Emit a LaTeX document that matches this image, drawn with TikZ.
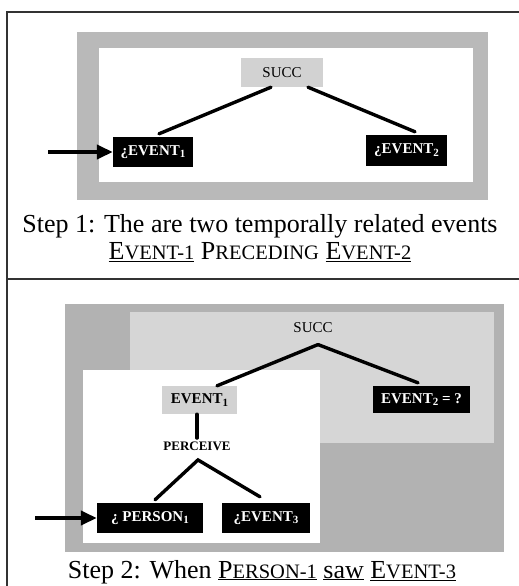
\documentclass[tikz,border=0pt]{standalone}
\usepackage{fontspec}
\setmainfont{Liberation Serif}
\usetikzlibrary{arrows.meta}
\newcommand{\fsc}[2]{#1{\fontsize{20.5}{24}\selectfont #2}}
\newcommand{\lblfont}{\fontsize{15}{17}\selectfont\bfseries}
\newcommand{\lowsub}[1]{\raisebox{-2.5pt}{\fontsize{11}{12}\selectfont #1}}
\begin{document}
\begin{tikzpicture}[x=1pt,y=-1pt,
  frameline/.style={line width=1.2pt, draw=black!80},
  link/.style={line width=3.4pt, line cap=round},
  pointer/.style={line width=4pt, -{Triangle[length=16pt,width=14pt]}},
  blackbox/.style={fill=black, text=white, font=\lblfont, inner sep=0pt},
  greybox/.style={fill=gray!35, inner sep=0pt},
  caption/.style={font=\fontsize{26}{30}\selectfont, anchor=base}
]
\useasboundingbox (0,0) rectangle (519,586);
% frame
\draw[frameline] (519,12) -- (7,12) -- (7,586);
\draw[frameline] (7,279) -- (519,279);

% ---------- panel 1 ----------
\fill[gray!55] (77,32) rectangle (488,200);
\fill[white] (99,48) rectangle (473,182);
\node[greybox, minimum width=82pt, minimum height=29pt, font=\fontsize{15}{17}\selectfont] (succA) at (282,72.5) {SUCC};
\node[blackbox, minimum width=80pt, minimum height=30pt] (evA1) at (153,152) {¿EVENT\lowsub{1}};
\node[blackbox, minimum width=81pt, minimum height=31pt] (evA2) at (406.5,150.5) {¿EVENT\lowsub{2}};
\draw[link] ([xshift=-11pt]succA.south) -- ([xshift=6pt,yshift=3pt]evA1.north);
\draw[link] ([xshift=26pt]succA.south) -- ([xshift=8.5pt,yshift=3pt]evA2.north);
\coordinate (arrA) at (48,152);
\draw[pointer] (arrA) -- (evA1.west);

\node[caption] (capA1) at (260,232) {Step 1: The are two temporally related events};
\node[caption] (capA2) at (260,259) {\underline{\fsc{E}{VENT-1}} \fsc{P}{RECEDING} \underline{\fsc{E}{VENT-2}}};

% ---------- panel 2 ----------
\fill[gray!60] (65,304) rectangle (504,552);
\fill[gray!32] (130,312) rectangle (494,443);
\fill[white] (83,370) rectangle (320,543);
\node[font=\fontsize{15}{17}\selectfont] (succB) at (313,328) {SUCC};
\node[greybox, font=\lblfont, text=black, minimum width=75pt, minimum height=28pt] (evB1) at (199.5,400) {EVENT\lowsub{1}};
\node[blackbox, minimum width=97pt, minimum height=27pt] (evB2) at (421.5,399.5) {EVENT\lowsub{2} = ?};
\draw[link] ([xshift=5pt,yshift=-8pt]succB.south) -- ([xshift=17.5pt]evB1.north);
\draw[link] ([xshift=5pt,yshift=-8pt]succB.south) -- ([xshift=-3.5pt,yshift=3pt]evB2.north);
\node[font=\fontsize{13}{15}\selectfont\bfseries] (perc) at (197,446) {PERCEIVE};
\draw[link] (evB1.south -| perc) -- (perc.north);
\node[blackbox, minimum width=106pt, minimum height=30pt] (perB) at (150,518) {¿ PERSON\lowsub{1}};
\node[blackbox, minimum width=88pt, minimum height=30pt] (evB3) at (266,518) {¿EVENT\lowsub{3}};
\draw[link] ([xshift=5pt,yshift=3pt]perB.north) -- ([xshift=1pt,yshift=-6pt]perc.south) -- ([xshift=-6pt,yshift=6pt]evB3.north);
\coordinate (arrB) at (35,518);
\draw[pointer] (arrB) -- (perB.west);

\node[caption] (capB) at (262,578) {Step 2: When \underline{\fsc{P}{ERSON-1}} \underline{saw} \underline{\fsc{E}{VENT-3}}};
\end{tikzpicture}
\end{document}
